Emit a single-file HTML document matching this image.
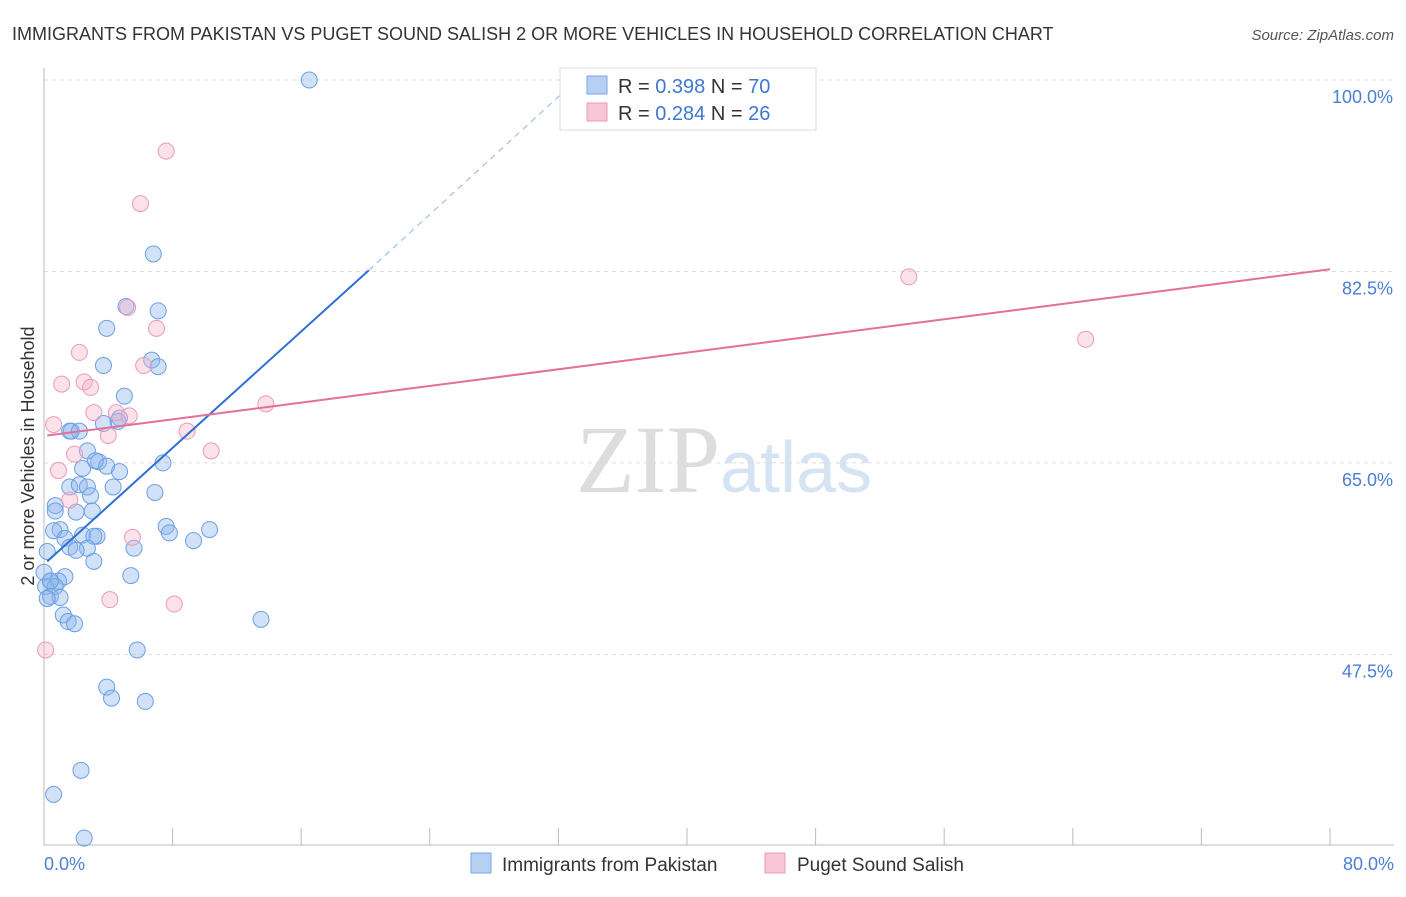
<!DOCTYPE html>
<html><head><meta charset="utf-8"><style>
body{margin:0;background:#fff;font-family:"Liberation Sans",sans-serif}
</style></head><body>
<svg width="1406" height="892" xmlns="http://www.w3.org/2000/svg" font-family="Liberation Sans, sans-serif">
<text x="12" y="40" font-size="18" fill="#333">IMMIGRANTS FROM PAKISTAN VS PUGET SOUND SALISH 2 OR MORE VEHICLES IN HOUSEHOLD CORRELATION CHART</text>
<text x="1394" y="40" font-size="15" fill="#555" font-style="italic" text-anchor="end">Source: ZipAtlas.com</text>
<text x="720" y="492" font-size="96" fill="#ddd" text-anchor="end" font-family="Liberation Serif, serif">ZIP</text>
<text x="720" y="492" font-size="72" fill="#d5e3f3">atlas</text>
<g id="grid"></g>
<g id="axes"></g>
<g id="marks"></g>
<text x="34" y="456" font-size="18" fill="#333" text-anchor="middle" transform="rotate(-90 34 456)">2 or more Vehicles in Household</text>
<text x="44" y="870" font-size="18" fill="#4a7fd4">0.0%</text>
<text x="1394" y="870" font-size="18" fill="#4a7fd4" text-anchor="end">80.0%</text>
<g>
<rect x="560" y="68" width="256" height="62" fill="#fff" stroke="#ddd"/>
<rect x="587" y="76" width="20" height="18" fill="#b5d0f3" stroke="#7aa6e0"/>
<rect x="587" y="103" width="20" height="18" fill="#f8c6d6" stroke="#eb9bb5"/>
<text x="618" y="93" font-size="20" fill="#333">R = <tspan fill="#3f78d0">0.398</tspan>   N = <tspan fill="#3f78d0">70</tspan></text>
<text x="618" y="120" font-size="20" fill="#333">R = <tspan fill="#3f78d0">0.284</tspan>   N = <tspan fill="#3f78d0">26</tspan></text>
</g>
<g>
<rect x="471" y="853" width="20" height="20" fill="#b5d0f3" stroke="#7aa6e0"/>
<text x="502" y="871" font-size="19" fill="#333">Immigrants from Pakistan</text>
<rect x="765" y="853" width="20" height="20" fill="#f8c6d6" stroke="#eb9bb5"/>
<text x="797" y="871" font-size="19" fill="#333">Puget Sound Salish</text>
</g>
</svg>
<script>
const yTicks=[100,82.5,65,47.5];
const blueX=[16.5,6.8,5.1,7.1,3.9,3.7,6.7,7.1,5.0,4.7,4.6,3.7,1.7,1.6,2.2,2.7,3.4,3.2,3.9,2.4,4.7,7.4,4.3,1.6,2.2,2.7,2.9,6.9,0.7,0.7,3.0,2.0,7.6,10.3,1.0,7.8,0.6,2.4,3.3,1.3,3.1,9.3,1.6,2.7,5.6,2.0,0.2,3.1,1.3,5.4,0.4,0.9,0.1,0.7,0.4,1.0,0.2,1.2,1.5,1.9,13.5,5.8,3.9,4.2,6.3,2.3,0.6,2.5,0.0,0.4];
const blueY=[100,84.1,79.3,78.9,77.3,73.9,74.4,73.8,71.1,69.1,68.8,68.6,67.9,67.9,67.9,66.1,65.1,65.2,64.7,64.5,64.2,65.0,62.8,62.8,63.0,62.8,62.0,62.3,61.1,60.6,60.6,60.5,59.2,58.9,58.9,58.6,58.8,58.4,58.3,58.1,58.3,57.9,57.3,57.2,57.2,57.0,56.9,56.0,54.6,54.7,54.2,54.2,53.7,53.7,52.8,52.7,52.6,51.1,50.5,50.3,50.7,47.9,44.5,43.5,43.2,36.9,34.7,30.7,55.0,54.2];
const pinkX=[7.6,6.0,7.0,5.2,2.2,1.1,2.5,2.9,6.2,3.1,4.5,5.3,13.8,0.6,8.9,4.0,10.4,1.9,0.9,1.6,5.5,4.1,8.1,0.1,53.8,64.8];
const pinkY=[93.5,88.7,77.3,79.2,75.1,72.2,72.4,71.9,73.9,69.6,69.6,69.3,70.4,68.5,67.9,67.5,66.1,65.8,64.3,61.6,58.2,52.5,52.1,47.9,82.0,76.3];
const blueTrend=[[0.2,56.0],[20.2,82.6],[32.1,98.6]];
const pinkTrend=[[0.2,67.5],[80,82.7]];
const X=v=>44+v*16.075, Y=v=>80+(100-v)*10.94;
const NS='http://www.w3.org/2000/svg';
function mk(p,t,a){const e=document.createElementNS(NS,t);for(const k in a)e.setAttribute(k,a[k]);document.getElementById(p).appendChild(e);return e;}
for(const t of yTicks){
 const l=mk('grid','line',{x1:44,x2:1394,y1:Y(t),y2:Y(t),stroke:'#ddd','stroke-dasharray':'4 4'});
 
 
 const tx=mk('grid','text',{x:1393,y:Y(t)+23,'font-size':18,fill:'#4a7fd4','text-anchor':'end'});
 tx.textContent=t.toFixed(1)+'%';
 
 
}
let a=mk('axes','line',{x1:44,x2:44,y1:68,y2:845,stroke:'#bbb'});


a=mk('axes','line',{x1:44,x2:1394,y1:845,y2:845,stroke:'#bbb'});


for(let i=0;i<=10;i++){const t=mk('axes','line',{x1:X(i*8),x2:X(i*8),y1:828,y2:845,stroke:'#bbb'});
 
 }
blueX.forEach((v,i)=>{const c=mk('marks','circle',{cx:X(v),cy:Y(blueY[i]),r:8,fill:'rgba(140,182,238,0.4)',stroke:'#6b9fe3','stroke-width':1});
 
 });
pinkX.forEach((v,i)=>{const c=mk('marks','circle',{cx:X(v),cy:Y(pinkY[i]),r:8,fill:'rgba(246,180,202,0.4)',stroke:'#eb9bb5','stroke-width':1});
 
 });
let l=mk('marks','line',{x1:X(blueTrend[0][0]),y1:Y(blueTrend[0][1]),x2:X(blueTrend[1][0]),y2:Y(blueTrend[1][1]),stroke:'#2f6fd6','stroke-width':2});


l=mk('marks','line',{x1:X(blueTrend[1][0]),y1:Y(blueTrend[1][1]),x2:X(blueTrend[2][0]),y2:Y(blueTrend[2][1]),stroke:'#8fb3e8','stroke-width':1,'stroke-dasharray':'6 5'});


l=mk('marks','line',{x1:X(pinkTrend[0][0]),y1:Y(pinkTrend[0][1]),x2:X(pinkTrend[1][0]),y2:Y(pinkTrend[1][1]),stroke:'#e3709a','stroke-width':2});


</script>
</body></html>
